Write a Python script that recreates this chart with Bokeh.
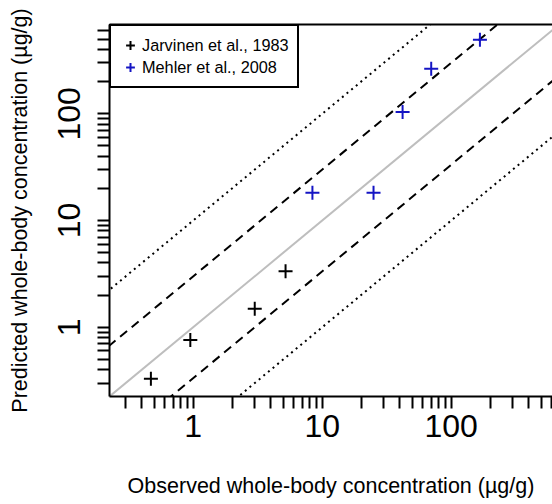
from bokeh.plotting import figure
from bokeh.models import (Range1d, FixedTicker, LogAxis, Legend, LegendItem,
                          BasicTickFormatter)
from bokeh.embed import file_html
from bokeh.resources import INLINE

# ---- data ----
jarvinen_obs = [0.47, 0.95, 3.0, 5.2]
jarvinen_pred = [0.33, 0.76, 1.49, 3.35]
mehler_obs = [8.4, 25.0, 42.0, 70.0, 167.0]
mehler_pred = [18.2, 18.2, 104.0, 264.0, 494.0]

major_ticks = [1, 10, 100]
minor_ticks = [0.3, 0.4, 0.5, 0.6, 0.7, 0.8, 0.9,
               2, 3, 4, 5, 6, 7, 8, 9,
               20, 30, 40, 50, 60, 70, 80, 90,
               200, 300, 400, 500, 600]
tick_labels = ["1", "10", "100"]

fold_solid = [1.0]
fold_dashed = [3.0, 1 / 3.0]
fold_dotted = [10.0, 0.1]
line_x = [0.01, 10000.0]

x_lim = (0.2245, 610.0)
y_lim = (0.2244, 687.0)

FONT = "Liberation Sans"

p = figure(width=552, height=504, x_axis_type="log", y_axis_type="log",
           x_range=Range1d(*x_lim), y_range=Range1d(*y_lim),
           output_backend="svg", toolbar_location=None,
           min_border_left=109, min_border_right=0, min_border_top=24,
           min_border_bottom=108)
p.outline_line_color = None
p.xgrid.visible = False
p.ygrid.visible = False
p.background_fill_color = "white"
p.border_fill_color = "white"

# reference lines
for f in fold_solid:
    p.line(line_x, [f * v for v in line_x], line_color="#BEBEBE", line_width=2)
for f in fold_dashed:
    p.line(line_x, [f * v for v in line_x], line_color="black", line_width=2,
           line_dash="9 6")
for f in fold_dotted:
    p.line(line_x, [f * v for v in line_x], line_color="black", line_width=2,
           line_dash="2 4")

r1 = p.scatter(jarvinen_obs, jarvinen_pred, marker="cross", size=14,
               line_color="black", line_width=2)
r2 = p.scatter(mehler_obs, mehler_pred, marker="cross", size=14,
               line_color="#1414C4", line_width=2)

overrides = {t: l for t, l in zip(major_ticks, tick_labels)}

for ax in (p.xaxis[0], p.yaxis[0]):
    ax.ticker = FixedTicker(ticks=major_ticks, minor_ticks=minor_ticks)
    ax.formatter = BasicTickFormatter()
    ax.major_label_overrides = overrides
    ax.axis_line_width = 2
    ax.major_tick_line_width = 2
    ax.minor_tick_line_width = 2
    ax.major_tick_in = 0
    ax.major_tick_out = 12
    ax.minor_tick_in = 0
    ax.minor_tick_out = 12
    ax.major_label_text_font = FONT
    ax.major_label_text_font_size = "32px"
    ax.major_label_text_color = "black"
    ax.axis_label_text_font = FONT
    ax.axis_label_text_font_size = "21.5px"
    ax.axis_label_text_font_style = "normal"
    ax.axis_label_text_color = "black"

p.xaxis.axis_label = "Observed whole-body concentration (µg/g)"
p.yaxis.axis_label = "Predicted whole-body concentration (µg/g)"
p.xaxis.major_label_standoff = 6
p.xaxis.axis_label_standoff = 34
p.yaxis.major_label_standoff = 17
p.yaxis.major_label_orientation = "vertical"
p.yaxis.axis_label_standoff = 24

# top border line
top = LogAxis(ticker=FixedTicker(ticks=[]), axis_line_width=2,
              major_tick_line_color=None, minor_tick_line_color=None,
              major_label_text_font_size="0px")
p.add_layout(top, "above")

legend = Legend(items=[LegendItem(label="Jarvinen et al., 1983", renderers=[r1]),
                       LegendItem(label="Mehler et al., 2008", renderers=[r2])],
                location="top_left", margin=0, padding=8, spacing=0,
                glyph_width=22, glyph_height=22, label_height=22,
                label_standoff=1, label_text_font=FONT,
                label_text_font_size="16.3px", label_text_color="black",
                border_line_color="black", border_line_alpha=1.0,
                border_line_width=2, background_fill_color="white",
                background_fill_alpha=1.0)
p.add_layout(legend)

open("out.html", "w").write(file_html(p, INLINE))
